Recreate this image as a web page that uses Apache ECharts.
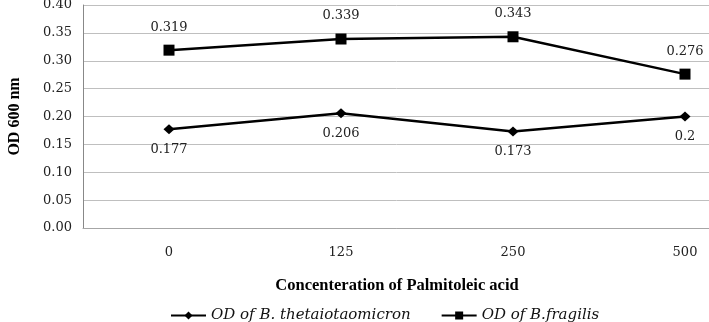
<!DOCTYPE html>
<html>
<head>
<meta charset="utf-8">
<script src="https://cdn.jsdelivr.net/npm/echarts@6/dist/echarts.min.js"></script>
<style>
  html, body { margin: 0; padding: 0; background: #fff; }
  #chart { width: 709px; height: 322px; }
</style>
</head>
<body>
<div id="chart"></div>
<script>
  var categories = ['0', '125', '250', '500'];
  var thetaValues = [0.177, 0.206, 0.173, 0.2];
  var fragilisValues = [0.319, 0.339, 0.343, 0.276];
  var yTicks = ['0.00', '0.05', '0.10', '0.15', '0.20', '0.25', '0.30', '0.35', '0.40'];

  var numFont = 'DejaVu Serif';
  var chart = echarts.init(document.getElementById('chart'));

  var option = {
    backgroundColor: '#fff',
    animation: false,
    grid: {
      left: 83,
      top: 5,
      width: 688,
      height: 223,
      outerBoundsMode: 'none'
    },
    xAxis: {
      type: 'category',
      data: categories,
      axisLine: { show: true, lineStyle: { color: '#a6a6a6', width: 1 } },
      axisTick: { show: false },
      axisLabel: { margin: 18, color: '#222', fontFamily: numFont, fontSize: 13 }
    },
    yAxis: {
      type: 'value',
      min: 0,
      max: 0.4,
      interval: 0.05,
      name: 'OD 600 nm',
      nameLocation: 'middle',
      nameRotate: 90,
      nameGap: 60,
      nameTextStyle: { fontFamily: 'Liberation Serif', fontWeight: 'bold', fontSize: 16, color: '#000' },
      axisLine: { show: true, lineStyle: { color: '#888', width: 1 } },
      axisTick: { show: false },
      axisLabel: {
        margin: 11,
        color: '#222',
        fontFamily: numFont,
        fontSize: 13,
        formatter: function (v) { return yTicks[Math.round(v / 0.05)]; }
      },
      splitLine: { lineStyle: { color: '#bfbfbf', width: 1 } }
    },
    legend: {
      left: 165,
      top: 303,
      itemWidth: 35,
      itemHeight: 10,
      itemGap: 30,
      textStyle: { fontFamily: numFont, fontStyle: 'italic', fontSize: 15, color: '#111' },
      data: ['OD of B. thetaiotaomicron', 'OD of B.fragilis']
    },
    graphic: [{
      type: 'text',
      x: 397,
      y: 286,
      style: {
        text: 'Concenteration of Palmitoleic acid',
        font: 'bold 16.5px "Liberation Serif"',
        fill: '#000',
        align: 'center',
        verticalAlign: 'middle'
      }
    }],
    series: [{
      name: 'OD of B. thetaiotaomicron',
      type: 'line',
      data: thetaValues,
      symbol: 'diamond',
      symbolSize: [11, 10],
      itemStyle: { color: '#000' },
      lineStyle: { color: '#000', width: 2.5 },
      label: {
        show: true,
        position: 'bottom',
        distance: 9,
        color: '#222',
        fontFamily: numFont,
        fontSize: 13
      }
    }, {
      name: 'OD of B.fragilis',
      type: 'line',
      data: fragilisValues,
      symbol: 'rect',
      symbolSize: 11,
      itemStyle: { color: '#000' },
      lineStyle: { color: '#000', width: 2.5 },
      label: {
        show: true,
        position: 'top',
        distance: 11,
        color: '#222',
        fontFamily: numFont,
        fontSize: 13
      }
    }]
  };
  option && chart.setOption(option);
</script>
</body>
</html>
